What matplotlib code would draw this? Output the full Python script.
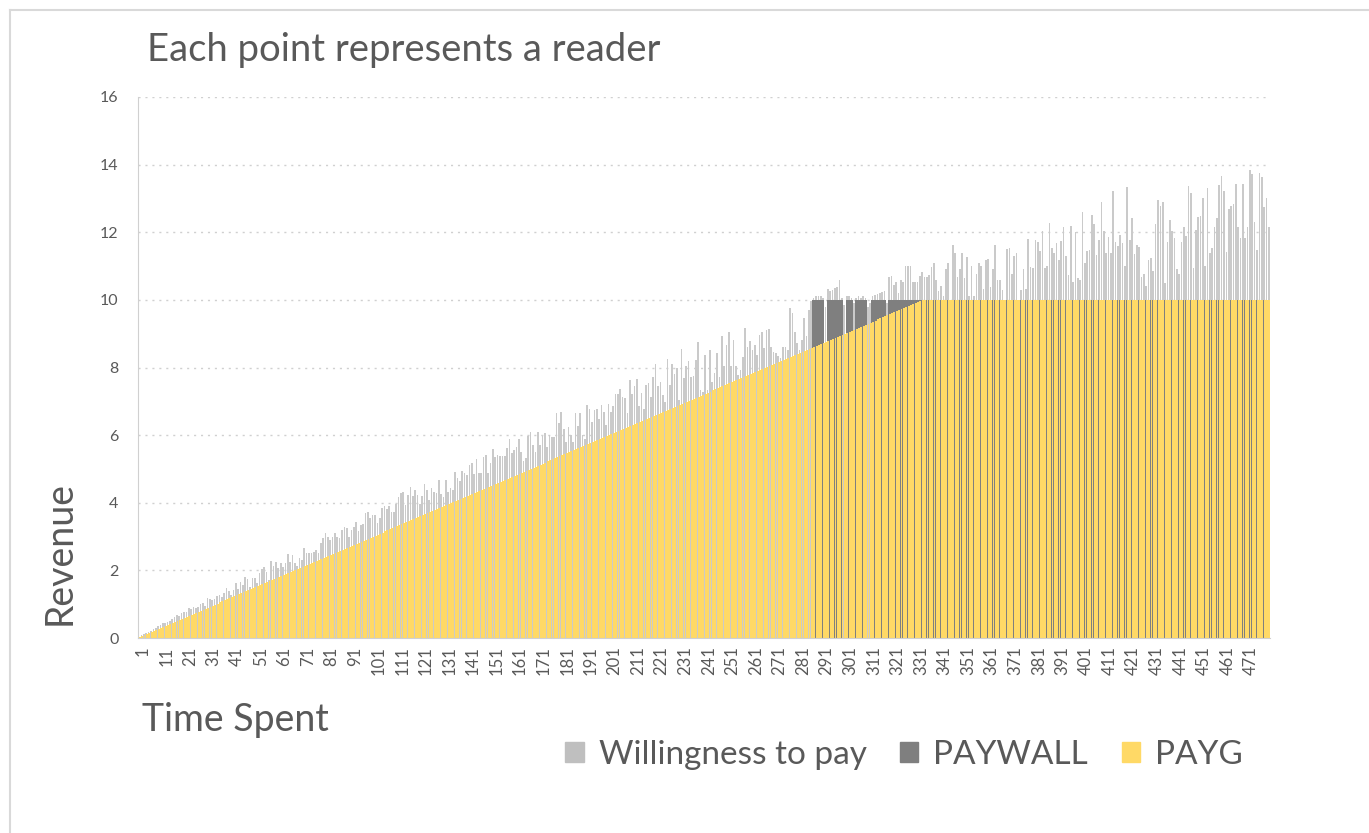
import numpy as np
import matplotlib
matplotlib.use("Agg")
import matplotlib.pyplot as plt
from matplotlib.patches import Patch
from matplotlib.lines import Line2D

plt.rcParams['font.family'] = ['Lato', 'DejaVu Sans']

# time spent = reader rank (1..480)
time_spent = np.arange(1, 481)

# willingness to pay per reader
willingness = [
    0.04, 0.09, 0.13, 0.16, 0.19, 0.22, 0.28, 0.31, 0.35, 0.38,
    0.43, 0.45, 0.48, 0.51, 0.55, 0.63, 0.68, 0.65, 0.73, 0.78,
    0.78, 0.88, 0.85, 0.91, 0.88, 0.93, 1.01, 1.03, 0.95, 1.17,
    1.16, 1.12, 1.14, 1.24, 1.27, 1.22, 1.34, 1.47, 1.40, 1.27,
    1.42, 1.62, 1.44, 1.67, 1.57, 1.80, 1.74, 1.50, 1.78, 1.77,
    1.62, 1.93, 2.03, 2.11, 1.96, 1.71, 2.28, 2.13, 2.26, 2.06,
    2.21, 2.11, 2.21, 2.48, 2.26, 2.46, 2.21, 2.13, 2.36, 2.31,
    2.65, 2.50, 2.52, 2.52, 2.55, 2.60, 2.52, 2.82, 2.95, 3.10,
    2.98,
    2.90, 2.98, 3.10, 3.00, 2.95, 3.20, 3.29, 3.24, 3.00, 3.18,
    3.29, 3.44, 3.15, 3.34, 3.37, 3.69, 3.74, 3.54, 3.64, 3.64,
    3.41, 3.54, 3.84, 3.89, 3.81, 3.91, 3.74, 3.74, 3.96, 4.16,
    4.30, 4.33, 3.93, 4.23, 4.48, 4.20, 4.38, 4.23, 3.96, 4.20,
    4.56, 4.38, 4.08, 4.43, 4.33, 4.28, 4.67, 4.26, 4.16, 4.67,
    4.33, 4.43, 4.38, 4.92, 4.72, 4.63, 4.95, 4.87, 4.82, 5.12,
    5.17, 4.85, 5.29, 4.87, 4.87, 5.36, 5.41, 4.87, 5.19, 5.58,
    5.35, 5.41, 5.38, 5.38, 5.38, 5.61, 5.88, 5.46, 5.56, 5.66,
    5.88, 5.51, 5.22, 5.32, 5.98, 6.10, 5.71, 5.51, 6.10, 5.71,
    5.96, 6.06, 5.66, 5.99, 5.94, 5.93, 6.65, 6.35, 6.67, 6.17,
    5.81, 6.23, 5.99, 5.81, 6.65, 6.27, 6.65, 6.01, 5.88, 6.89,
    6.77, 6.40, 6.75, 6.77, 6.47, 6.89, 6.67, 6.30, 6.92, 6.67,
    6.86, 7.21, 7.21, 7.36, 7.12, 7.09, 6.65, 7.63, 7.21, 7.44,
    7.65, 6.86, 7.24, 6.77, 7.49, 7.55, 7.14, 7.73, 8.11, 7.44,
    7.58, 7.19, 6.99, 8.24, 7.49, 8.11, 7.81, 7.98, 7.04, 8.54,
    7.68, 8.03, 8.20, 7.73, 7.75, 8.21, 8.75, 7.34, 7.28, 8.37,
    7.32, 8.52,
    7.58, 7.83, 8.42, 7.73, 8.93, 8.03, 8.67, 9.06, 8.03, 8.82,
    8.03, 7.78, 7.93, 8.32, 9.16, 8.60, 8.77, 8.52, 8.67, 8.37,
    8.96, 9.06, 8.57, 9.11, 9.13, 8.62, 8.45, 8.42, 8.34, 8.27,
    8.62, 8.62, 8.52, 9.75, 9.62, 9.05, 8.72, 8.52, 8.82, 9.46,
    8.93, 9.70, 9.98,
    10.05, 10.10, 10.10, 10.12, 10.05, 9.80, 10.31, 10.25, 10.30, 10.35,
    10.37, 10.59, 10.05, 9.85, 10.10, 10.12, 10.05, 9.90, 10.05, 10.10,
    10.05, 10.12, 10.05, 9.80, 9.90, 10.10, 10.15, 10.18, 10.20, 10.22,
    10.25, 9.90, 10.69, 10.71, 10.44, 10.54,
    10.20, 10.60, 10.54, 11.00, 11.00, 11.00, 10.54, 10.54, 10.54, 10.70,
    10.81, 10.69, 10.69, 10.74, 10.97, 11.08, 10.60, 10.25, 10.40, 10.10,
    10.91, 11.10, 9.90, 11.61, 11.40, 10.69, 10.90, 11.40, 10.64, 11.28,
    10.10, 10.99, 10.10, 10.77, 11.08, 10.99, 10.32, 11.18, 11.20, 10.39,
    10.91, 11.61, 10.59, 10.59, 10.30, 9.90, 11.50, 11.53, 10.77, 11.30,
    11.38, 9.90, 10.30, 10.91, 10.32, 11.80, 10.97, 10.94, 11.76, 11.70,
    11.46, 12.05, 10.94, 10.99, 12.27, 11.53, 11.38, 11.68, 11.18, 11.75,
    12.17, 11.30, 10.74, 12.19, 10.54, 12.02, 10.64, 10.59, 12.61, 11.10,
    11.46,
    11.48, 12.51, 12.24, 11.33, 11.78, 12.89, 12.04, 11.40, 11.85, 11.38,
    13.23, 11.70, 11.60, 11.91, 11.68, 11.00, 13.33, 11.78, 12.42, 11.35,
    11.63, 11.56, 10.69, 10.77, 10.41, 11.18, 11.24, 10.84, 12.24, 12.94,
    12.79, 12.88, 10.51, 11.70, 12.35, 12.04, 11.82, 10.91, 10.77, 11.70,
    12.15, 11.89, 13.37, 13.16, 10.94, 12.06, 12.45, 12.47, 13.01, 11.00,
    13.30, 11.40, 11.53, 12.16, 12.42, 13.40, 13.65, 13.23, 11.41, 12.68,
    12.78, 12.84, 13.43, 12.16, 11.84, 13.43, 11.84, 12.16,
    13.83, 13.73, 12.30, 11.48, 13.74, 13.63, 12.76, 13.01, 12.16,
]

# pricing: PAYG line reaches the 10 cap at reader ~333
paywall_price = 10.0
payg_rate = 0.03

willingness = np.array(willingness)
paywall = np.where(willingness >= paywall_price, paywall_price, 0.0)
payg = np.minimum(time_spent * payg_rate, paywall_price)

tick_pos = np.arange(1, 481, 10)
tick_labels = [str(t) for t in tick_pos]

TXT = '#595959'

fig = plt.figure(figsize=(13.69, 8.33), dpi=100)
ax = fig.add_axes([138 / 1369, 1 - 638 / 833, 1132 / 1369, 541 / 833])

ax.bar(time_spent, willingness, width=0.7, color='#CACACA', linewidth=0, zorder=2)
ax.bar(time_spent, paywall, width=1.0, color='#7F7F7F', linewidth=0, zorder=3)
ax.bar(time_spent + 0.25, payg, width=0.8, color='#FFD966', linewidth=0, zorder=4)

ax.set_xlim(0.5, 480.5)
ax.set_ylim(0, 16)
ax.set_yticks(np.arange(0, 17, 2))
ax.set_xticks(tick_pos + 1.5)
ax.set_xticklabels(tick_labels, rotation=90, fontsize=12, color=TXT)
ax.tick_params(axis='x', length=0, pad=6)
ax.tick_params(axis='y', length=0, pad=14, labelsize=11.5, labelcolor=TXT)

for v in np.arange(2, 17, 2):
    ax.axhline(v, color='#D0D0D0', lw=1, ls=(0, (1.5, 3.5)), zorder=1)

for s in ['top', 'right']:
    ax.spines[s].set_visible(False)
ax.spines['left'].set_color('#D0D0D0')
ax.spines['bottom'].set_color('#D0D0D0')
ax.spines['left'].set_zorder(5)
ax.spines['bottom'].set_zorder(5)

fig.text(147 / 1369, 1 - 50 / 833, 'Each point represents a reader',
         fontsize=27.5, color=TXT, va='center', ha='left')
fig.text(60 / 1369, 1 - 553 / 833, 'Revenue', rotation=90,
         fontsize=27, color=TXT, va='center', ha='center')
fig.text(142 / 1369, 1 - 720 / 833, 'Time Spent',
         fontsize=27, color=TXT, va='center', ha='left')

handles = [Patch(color='#BFBFBF'), Patch(color='#7F7F7F'), Patch(color='#FFD966')]
fig.legend(handles, ['Willingness to pay', 'PAYWALL', 'PAYG'],
           loc='center', bbox_to_anchor=(904 / 1369, 1 - 755 / 833), ncol=3,
           frameon=False, fontsize=24, labelcolor=TXT,
           handlelength=0.55, handleheight=0.55, handletextpad=0.45,
           columnspacing=1.0)

# outer chart-area border
fig.add_artist(Line2D([10 / 1369, 1], [1 - 10 / 833, 1 - 10 / 833],
                      transform=fig.transFigure, color='#D9D9D9', lw=1.5))
fig.add_artist(Line2D([10 / 1369, 10 / 1369], [0, 1 - 10 / 833],
                      transform=fig.transFigure, color='#D9D9D9', lw=1.5))

fig.savefig('out.png', dpi=100, facecolor='white')
